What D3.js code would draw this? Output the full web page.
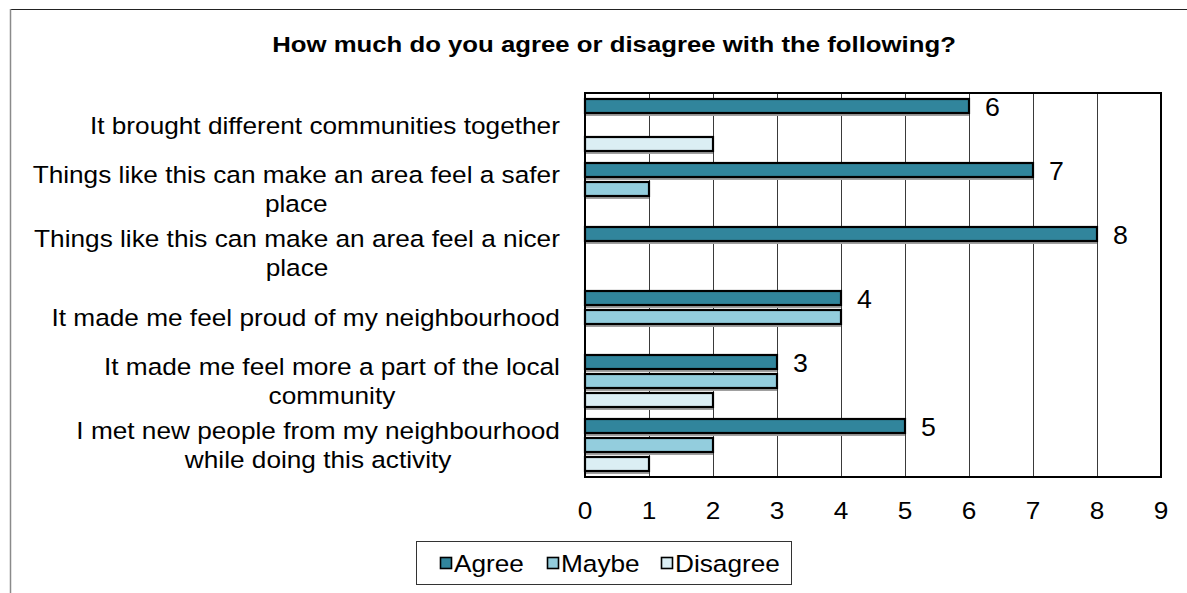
<!DOCTYPE html>
<html>
<head>
<meta charset="utf-8">
<script src="https://cdn.jsdelivr.net/npm/d3@7"></script>
<style>
  html, body { margin: 0; padding: 0; background: #fff; }
  svg { display: block; font-family: "Liberation Sans", Arial, sans-serif; }
</style>
</head>
<body>
<svg id="chart" width="1187" height="593"></svg>
<script>
// Survey statements, listed top to bottom
const categories = [
  "It brought different communities together",
  "Things like this can make an area feel a safer place",
  "Things like this can make an area feel a nicer place",
  "It made me feel proud of my neighbourhood",
  "It made me feel more a part of the local community",
  "I met new people from my neighbourhood while doing this activity"
];
const seriesNames = ["Agree", "Maybe", "Disagree"];
const agree    = [6, 7, 8, 4, 3, 5];
const maybe    = [0, 1, 0, 4, 3, 2];
const disagree = [2, 0, 0, 0, 2, 1];
const xTicks = [0, 1, 2, 3, 4, 5, 6, 7, 8, 9];
const title = "How much do you agree or disagree with the following?";

const seriesValues = { Agree: agree, Maybe: maybe, Disagree: disagree };
const colors = { Agree: "#31859c", Maybe: "#93cddd", Disagree: "#dbeef4" };

const W = 1187, H = 593;
const plot = { left: 585, right: 1161, top: 93, bottom: 477 };
const FS = 24.5;      // body text size
const SX = 1.07;      // horizontal stretch of the text face

const svg = d3.select("#chart");
svg.append("rect").attr("width", W).attr("height", H).attr("fill", "#fff");

// place a text element at (ax, ay) with the horizontal stretch applied
function stretched(sel, ax, ay, sx) {
  return sel.attr("x", 0).attr("y", 0)
    .attr("transform", `translate(${ax},${ay}) scale(${sx},1)`);
}

// outer chart frame (only top and left edges fall inside the view)
svg.append("line").attr("x1", 10).attr("x2", W).attr("y1", 9.5).attr("y2", 9.5)
  .attr("stroke", "#222").attr("stroke-width", 1.2);
svg.append("line").attr("x1", 10.5).attr("x2", 10.5).attr("y1", 9).attr("y2", H)
  .attr("stroke", "#8a8a8a").attr("stroke-width", 1.5);

// title
stretched(svg.append("text"), 614, 52, 1.12)
  .attr("text-anchor", "middle")
  .attr("font-size", 23).attr("font-weight", "bold")
  .attr("fill", "#000")
  .text(title);

const x = d3.scaleLinear().domain([0, 9]).range([plot.left, plot.right]);
const y = d3.scaleBand().domain(categories).range([plot.top, plot.bottom]).paddingInner(0).paddingOuter(0);
const ySub = d3.scaleBand().domain(seriesNames).range([5, 59]).paddingInner(3 / 19).paddingOuter(0);

// vertical gridlines
svg.append("g")
  .selectAll("line")
  .data(xTicks.slice(1, -1))
  .join("line")
  .attr("x1", d => Math.round(x(d)) + 0.5).attr("x2", d => Math.round(x(d)) + 0.5)
  .attr("y1", plot.top).attr("y2", plot.bottom)
  .attr("stroke", "#3a3a3a").attr("stroke-width", 1);

// bars
const rows = [];
categories.forEach((c, i) => {
  seriesNames.forEach(s => {
    rows.push({ cat: c, series: s, value: seriesValues[s][i] });
  });
});
const barRows = rows.filter(d => d.value > 0);

const gBars = svg.append("g");
// soft drop shadow under each bar
gBars.selectAll("rect.shadow")
  .data(barRows)
  .join("rect")
  .attr("class", "shadow")
  .attr("x", x(0))
  .attr("y", d => y(d.cat) + ySub(d.series) + 2)
  .attr("width", d => x(d.value) - x(0))
  .attr("height", ySub.bandwidth())
  .attr("fill", "#a0a0a0");

gBars.selectAll("rect.bar")
  .data(barRows)
  .join("rect")
  .attr("class", "bar")
  .attr("x", x(0))
  .attr("y", d => y(d.cat) + ySub(d.series) + 1)
  .attr("width", d => x(d.value) - x(0))
  .attr("height", ySub.bandwidth() - 2)
  .attr("fill", d => colors[d.series])
  .attr("stroke", "#000").attr("stroke-width", 2.2);

// plot area border
svg.append("rect")
  .attr("x", plot.left).attr("y", plot.top)
  .attr("width", plot.right - plot.left).attr("height", plot.bottom - plot.top)
  .attr("fill", "none").attr("stroke", "#000").attr("stroke-width", 2);

// value labels on the Agree bars
svg.append("g")
  .selectAll("text")
  .data(rows.filter(d => d.series === "Agree"))
  .join("text")
  .each(function (d) {
    stretched(d3.select(this), x(d.value) + 16,
      y(d.cat) + ySub("Agree") + ySub.bandwidth() / 2 + 9.5, SX);
  })
  .attr("font-size", 25)
  .attr("fill", "#000")
  .text(d => d.value);

// x axis tick labels
const xAxis = d3.axisBottom(x).tickValues(xTicks).tickSize(0).tickPadding(0).tickFormat(d3.format("d"));
const gx = svg.append("g").attr("transform", `translate(0,${plot.bottom})`).call(xAxis);
gx.select(".domain").remove();
gx.selectAll("text")
  .attr("y", 42)
  .attr("dy", null)
  .attr("font-size", FS)
  .attr("font-family", "Liberation Sans, Arial, sans-serif")
  .attr("transform", `scale(${SX},1)`)
  .attr("fill", "#000");
// keep each tick label centred on its tick under the stretch
gx.selectAll(".tick").attr("transform", d => `translate(${x(d)},0)`);

// category labels: wrapped, lines centred within a right-aligned block
const labelRight = 560, lineH = 29, maxW = 540;
const gLab = svg.append("g").attr("font-size", FS).attr("fill", "#000");
categories.forEach(c => {
  const probe = gLab.append("text");
  const measure = t => { probe.text(t); return probe.node().getComputedTextLength() * SX; };
  const words = c.split(" ");
  const lines = [];
  let cur = [];
  words.forEach(w => {
    const trial = cur.concat([w]).join(" ");
    if (measure(trial) > maxW && cur.length) {
      lines.push(cur.join(" "));
      cur = [w];
    } else {
      cur.push(w);
    }
  });
  lines.push(cur.join(" "));
  const widths = lines.map(measure);
  probe.remove();
  const blockW = d3.max(widths);
  const cx = labelRight - blockW / 2;
  const cy = y(c) + y.bandwidth() / 2;
  lines.forEach((l, k) => {
    stretched(gLab.append("text"), cx, cy + (k - (lines.length - 1) / 2) * lineH + 8.5, SX)
      .attr("text-anchor", "middle")
      .text(l);
  });
});

// legend
const legend = svg.append("g");
legend.append("rect")
  .attr("x", 416.5).attr("y", 541.5).attr("width", 375).attr("height", 43)
  .attr("fill", "#fff").attr("stroke", "#333").attr("stroke-width", 1);
const legendX = { Agree: 440, Maybe: 547, Disagree: 661 };
seriesNames.forEach(s => {
  legend.append("rect")
    .attr("x", legendX[s] + 0.5).attr("y", 557.5).attr("width", 11).attr("height", 11)
    .attr("fill", colors[s]).attr("stroke", "#000").attr("stroke-width", 1.6);
  stretched(legend.append("text"), legendX[s] + 14, 571.5, SX)
    .attr("font-size", FS)
    .attr("fill", "#000")
    .text(s);
});
</script>
</body>
</html>
